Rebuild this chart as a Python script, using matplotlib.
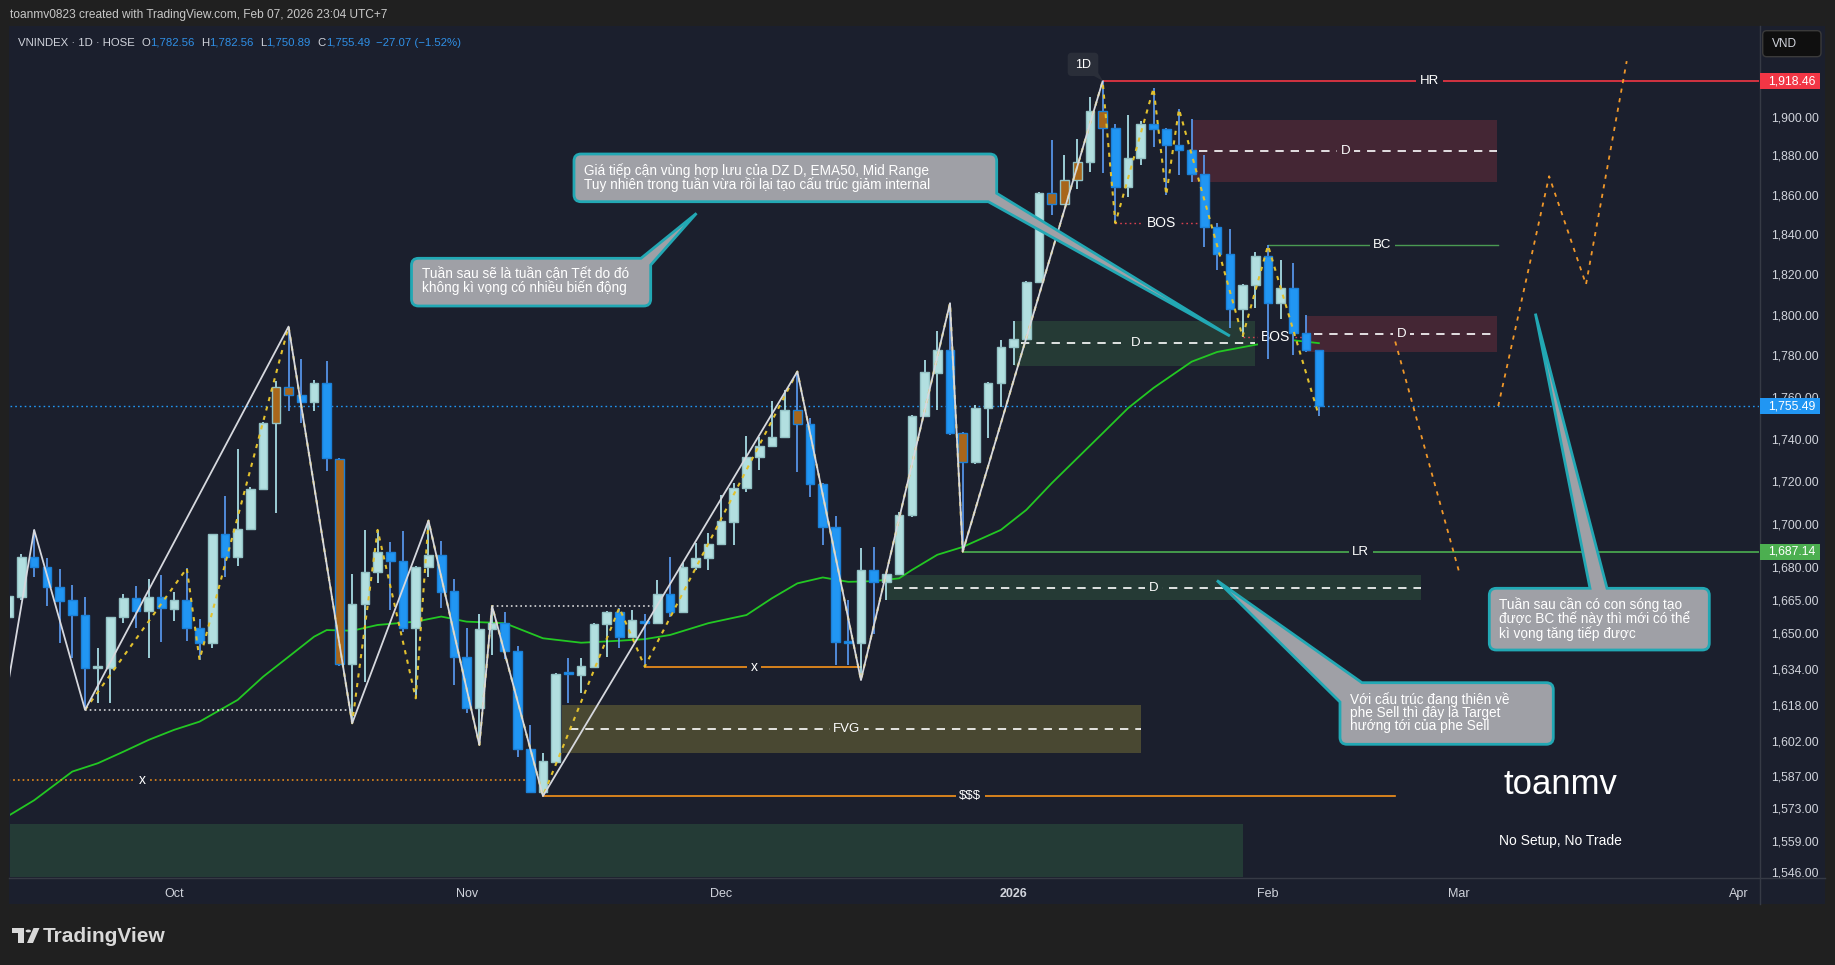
import numpy as np
import matplotlib
matplotlib.use("Agg")
import matplotlib.pyplot as plt
from matplotlib.patches import Rectangle, PathPatch, Circle, Polygon
from matplotlib.path import Path
from matplotlib.ticker import NullLocator, FixedLocator, NullFormatter

plt.rcParams['font.family'] = ['Liberation Sans', 'DejaVu Sans']
plt.rcParams['lines.scale_dashes'] = False

W, H = 1835, 965

# ------------------------------------------------------------------ data
first_bar = -13  # bar index of the first candle (Oct 1 2025 = 0)
opens = [1657.2, 1666.6, 1684.6, 1680.2, 1670.8, 1664.9, 1658.1, 1634.2, 1634.5, 1657.2,
         1665.8, 1660.2, 1666.3, 1661.1, 1664.9, 1652.2, 1645.5, 1695.2, 1684.9, 1697.5,
         1716.2, 1747.4, 1764.6, 1760.8, 1757.4, 1766.6, 1730.6, 1636.0, 1663.1, 1678.0,
         1686.9, 1682.7, 1652.2, 1680.0, 1685.5, 1669.0, 1639.1, 1616.5, 1651.8, 1654.5,
         1642.1, 1598.5, 1580.1, 1593.1, 1632.0, 1631.1, 1635.0, 1654.1, 1659.5, 1648.4,
         1655.7, 1654.5, 1667.7, 1659.7, 1680.0, 1684.0, 1690.6, 1701.0, 1716.6, 1731.3,
         1736.7, 1741.0, 1753.6, 1747.1, 1718.5, 1698.4, 1646.2, 1645.5, 1678.7, 1673.1,
         1676.8, 1703.9, 1750.8, 1771.7, 1782.7, 1742.6, 1729.0, 1754.6, 1766.6, 1784.0,
         1788.0, 1816.0, 1861.0, 1855.2, 1867.5, 1876.7, 1903.0, 1894.0, 1864.0, 1878.5,
         1896.2, 1893.5, 1885.4, 1882.8, 1870.2, 1843.5, 1830.1, 1802.6, 1814.5, 1829.1,
         1805.9, 1813.0, 1790.9, 1782.56]
highs = [1674.9, 1686.0, 1697.2, 1684.1, 1679.0, 1671.9, 1666.3, 1643.2, 1657.5, 1667.8,
         1671.4, 1674.5, 1676.4, 1668.8, 1679.5, 1656.3, 1695.5, 1713.0, 1735.0, 1717.4,
         1748.0, 1767.4, 1794.1, 1778.2, 1768.2, 1777.4, 1731.0, 1676.9, 1697.2, 1697.2,
         1691.5, 1696.7, 1680.5, 1701.5, 1692.1, 1674.5, 1652.2, 1658.5, 1662.3, 1659.5,
         1644.2, 1609.2, 1596.7, 1632.0, 1638.7, 1638.7, 1654.5, 1660.0, 1661.5, 1660.5,
         1658.5, 1674.1, 1684.6, 1681.8, 1691.1, 1695.7, 1713.5, 1719.1, 1741.3, 1740.7,
         1758.0, 1763.3, 1772.2, 1749.8, 1719.0, 1703.7, 1665.2, 1688.7, 1689.5, 1677.0,
         1705.7, 1751.5, 1777.9, 1792.0, 1805.6, 1743.0, 1756.0, 1767.0, 1787.6, 1797.0,
         1816.8, 1861.5, 1887.9, 1880.2, 1888.3, 1910.4, 1918.46, 1896.2, 1900.9, 1897.9,
         1914.8, 1894.0, 1903.9, 1898.7, 1880.2, 1845.5, 1842.5, 1815.0, 1831.2, 1834.3,
         1827.1, 1825.4, 1799.8, 1782.56]
lows = [1653.7, 1665.0, 1675.7, 1662.3, 1645.5, 1638.7, 1615.8, 1618.7, 1619.0, 1654.5,
        1652.2, 1638.7, 1645.8, 1655.7, 1646.6, 1638.0, 1643.2, 1675.4, 1680.7, 1697.0,
        1716.0, 1705.0, 1753.4, 1747.7, 1753.4, 1724.9, 1635.3, 1609.9, 1628.3, 1672.8,
        1660.5, 1650.5, 1620.9, 1675.7, 1661.3, 1626.8, 1614.6, 1600.4, 1640.2, 1638.3,
        1595.3, 1579.8, 1578.2, 1593.0, 1618.7, 1623.1, 1634.5, 1639.1, 1643.2, 1647.7,
        1635.0, 1654.0, 1657.5, 1659.0, 1678.7, 1678.7, 1690.2, 1690.3, 1715.0, 1725.2,
        1736.3, 1740.7, 1724.4, 1712.7, 1690.3, 1635.7, 1635.7, 1629.0, 1649.4, 1665.0,
        1676.5, 1703.0, 1750.5, 1753.7, 1741.8, 1687.14, 1728.0, 1740.2, 1755.3, 1775.5,
        1787.6, 1815.5, 1849.6, 1854.7, 1862.7, 1871.6, 1870.9, 1845.5, 1858.9, 1875.0,
        1884.5, 1859.8, 1870.0, 1866.3, 1833.5, 1821.8, 1793.3, 1789.2, 1803.4, 1778.2,
        1797.7, 1780.3, 1781.5, 1750.89]
closes = [1666.9, 1684.6, 1680.2, 1670.8, 1664.7, 1658.1, 1634.3, 1634.6, 1657.2, 1665.8,
          1660.2, 1666.3, 1661.3, 1664.9, 1652.2, 1645.5, 1695.2, 1684.9, 1697.5, 1716.2,
          1747.4, 1764.6, 1760.8, 1757.4, 1766.6, 1730.8, 1636.0, 1663.1, 1678.0, 1686.9,
          1682.7, 1652.2, 1680.0, 1685.5, 1668.8, 1639.1, 1616.5, 1651.8, 1654.5, 1642.1,
          1598.5, 1580.1, 1593.4, 1631.8, 1631.5, 1635.3, 1654.2, 1659.5, 1648.4, 1656.0,
          1654.5, 1667.7, 1659.7, 1680.0, 1684.1, 1690.6, 1701.2, 1716.6, 1731.3, 1736.7,
          1741.0, 1753.6, 1747.1, 1718.5, 1698.4, 1646.2, 1645.5, 1678.7, 1673.1, 1676.8,
          1704.2, 1750.8, 1772.2, 1782.7, 1742.6, 1729.0, 1754.6, 1766.6, 1784.0, 1788.0,
          1816.0, 1861.0, 1855.2, 1867.5, 1876.7, 1903.0, 1894.0, 1864.0, 1878.5, 1896.2,
          1893.5, 1885.4, 1882.8, 1870.2, 1843.5, 1830.1, 1802.6, 1814.5, 1829.1, 1805.9,
          1813.0, 1790.9, 1782.56, 1755.49]
orange_bars = [8, 9, 13, 49, 62, 69, 70, 71, 73]

month_pos = [0, 23, 43, 66, 86, 101, 123]
month_labels = ['Oct', 'Nov', 'Dec', '2026', 'Feb', 'Mar', 'Apr']
price_ticks = [1900, 1880, 1860, 1840, 1820, 1800, 1780, 1760, 1740, 1720, 1700,
               1680, 1665, 1650, 1634, 1618, 1602, 1587, 1573, 1559, 1546]

ema_bar = [-13, -11, -8, -6, -4, -2, 0, 2, 5, 7, 9, 11, 12, 14, 16, 19, 21, 23, 26, 29,
           32, 35, 37, 39, 42, 45, 47, 49, 51, 53, 55, 57, 58, 60, 62, 65, 67, 69, 73, 75,
           77, 80, 82, 85, 87, 88, 90]
ema_val = [1569.8, 1576.4, 1588.8, 1592.4, 1597.4, 1602.6, 1607.0, 1610.6, 1620.2, 1630.5,
           1639.4, 1648.4, 1651.4, 1651.1, 1653.7, 1655.2, 1657.5, 1655.2, 1654.5, 1647.7,
           1645.7, 1646.6, 1647.3, 1649.2, 1654.5, 1658.2, 1665.8, 1672.6, 1675.3, 1673.3,
           1673.6, 1674.9, 1678.7, 1685.7, 1689.3, 1697.2, 1706.5, 1719.0, 1742.6, 1754.6,
           1764.3, 1777.0, 1781.7, 1785.2, 1787.3, 1787.4, 1786.0]

major_swing_bar = [-14, -11, -7, 9, 14, 20, 24, 25, 29, 49, 54, 61, 62, 73]
major_swing_price = [1596.0, 1697.2, 1615.8, 1794.1, 1609.9, 1701.5, 1600.4, 1662.3,
                     1578.2, 1772.2, 1629.0, 1805.6, 1687.14, 1918.46]
minor_swing_bar = [-7, 1, 2, 9, 14, 16, 19, 20, 24, 25, 29, 35, 37, 49, 54, 61, 62, 73,
                   74, 77, 78, 79, 84, 86, 90]
minor_swing_price = [1615.8, 1679.5, 1638.0, 1794.1, 1609.9, 1697.2, 1620.9, 1701.5,
                     1600.4, 1662.3, 1578.2, 1661.5, 1635.0, 1772.2, 1629.0, 1805.6,
                     1687.14, 1918.46, 1845.5, 1914.8, 1859.8, 1903.9, 1789.2, 1834.3,
                     1750.89]

proj1_bar = [96.0, 101.0]
proj1_price = [1786.8, 1678.3]
proj2_bar = [104.1, 108.1, 111.0, 114.2]
proj2_price = [1755.6, 1869.3, 1814.9, 1929.0]

last_price = 1755.49
hr_price = 1918.46
lr_price = 1687.14
bc_price = 1834.3
sss_price = 1578.2
x_mid_price = 1635.0
x_low_price = 1585.2
wdot1_price = 1615.8
wdot2_price = 1662.3
bos1_price = 1845.5
bos2_price = 1789.2

# zones: (start bar, end bar, top price, bottom price, label, label bar)
green_zones = [(66, 85, 1797.0, 1775.1, 'D', 75.6),
               (56, 98, 1676.4, 1665.0, 'D', 77.0)]
red_zones = [(80, 104, 1898.3, 1866.3, 'D', 92.1),
             (89, 104, 1799.3, 1781.9, 'D', 96.5)]
fvg_zone = (30.5, 76, 1618.0, 1597.0, 'FVG', 52.9)
base_zone = (-14, 84, 1566.2, 1500.0)

# ------------------------------------------------------------------ style
BG = '#1b1f2d'
OUT = '#202020'
TXT = '#d1d4dc'
BULL = '#b2dfe0'
BULL_EDGE = '#93c2c5'
BEAR = '#2196f3'
BEAR_EDGE = '#1b80d8'
ORANGE = '#a8661a'
BULL_WICK = '#b2ebf2'
BEAR_WICK = '#5b9cf5'
GZONE = '#253a35'
RZONE = '#442634'
FZONE = '#494832'
CALL_FILL = '#9fa0a6'
CALL_EDGE = '#22a8b4'

fig = plt.figure(figsize=(W / 100, H / 100), dpi=100)
fig.patch.set_facecolor(OUT)


def fx(px):
    return px / W


def fy(py):
    return 1 - py / H


# panel background
fig.patches.append(Rectangle((fx(9), fy(904)), fx(1825) - fx(9), fy(26) - fy(904),
                             transform=fig.transFigure, fc=BG, ec='none', zorder=-2))

ax = fig.add_axes([fx(10), fy(877), fx(1759) - fx(10), fy(26) - fy(877)])
ax.set_facecolor(BG)
for s in ax.spines.values():
    s.set_visible(False)
ax.set_yscale('log')
XL = (-12.9, 124.6)
YL = (1543.7, 1947.6)


def zone(x0, x1, top, bot, color, z=1):
    ax.add_patch(Rectangle((x0, bot), x1 - x0, top - bot, fc=color, ec='none', zorder=z))


zone(base_zone[0], base_zone[1], base_zone[2], base_zone[3], '#243b36')
all_zones = [(zz, GZONE) for zz in green_zones] + [(zz, RZONE) for zz in red_zones] + [(fvg_zone, FZONE)]
for (x0, x1, t, b, lab, lx), col in all_zones:
    zone(x0, x1, t, b, col)
    mid = np.sqrt(t * b)
    ax.plot([x0 + 0.6, x1], [mid, mid], color='white', lw=1.2, ls=(0, (6, 5)), zorder=2)
    ax.text(lx, mid, lab, color='white', fontsize=9.5, ha='center', va='center', zorder=3,
            bbox=dict(fc=col, ec='none', pad=2.5))

# price line
ax.axhline(last_price, color='#2196f3', lw=1.0, ls=(0, (1.2, 2.2)), zorder=2)

# EMA50
ax.plot(ema_bar, ema_val, color='#23c823', lw=1.3, zorder=3)


def level(x0, x1, p, color, ls='-', lw=1.2, label=None, lx=None, fs=9.5, z=3):
    ax.plot([x0, x1], [p, p], color=color, lw=lw, ls=ls, zorder=z)
    if label:
        ax.text(lx, p, label, color='white', fontsize=fs, ha='center', va='center', zorder=z + 1,
                bbox=dict(fc=BG, ec='none', pad=2.5))


level(73, XL[1], hr_price, '#f23645', label='HR', lx=98.7)
level(62, XL[1], lr_price, '#4caf50', label='LR', lx=93.3)
level(86, 104.1, bc_price, '#4a9a52', lw=1.0, label='BC', lx=95.0)
level(29, 96.0, sss_price, '#f7931a', label='$$$', lx=62.6)
level(37, 54, x_mid_price, '#f7931a', label='x', lx=45.6, fs=10)
level(-14, 28, x_low_price, '#f7931a', ls=(0, (1.2, 2.2)), lw=1.1, label='x', lx=-2.5, fs=10)
level(-7, 14, wdot1_price, '#e8e8e8', ls=(0, (1.2, 2.2)), lw=1.1)
level(25, 38, wdot2_price, '#e8e8e8', ls=(0, (1.2, 2.2)), lw=1.1)
level(74, 80.8, bos1_price, '#d8404f', ls=(0, (1.2, 2.2)), lw=1.0, label='BOS', lx=77.6, fs=10)
level(84, 88.8, bos2_price, '#d8404f', ls=(0, (1.2, 2.2)), lw=1.0, label='BOS', lx=86.6, fs=10)

# candles
o = np.array(opens); h = np.array(highs); l = np.array(lows); c = np.array(closes)
xb = np.arange(first_bar, first_bar + len(o))
up = c >= o
fill, edge, wick = [], [], []
for i, b in enumerate(xb):
    fill.append(ORANGE if b in orange_bars else (BULL if up[i] else BEAR))
    edge.append(BULL_EDGE if up[i] else BEAR_EDGE)
    wick.append(BULL_WICK if up[i] else BEAR_WICK)
ax.vlines(xb, l, h, colors=wick, lw=1.2, zorder=4)
body_lo = np.minimum(o, c)
body_h = np.maximum(np.abs(c - o), 0.9)
ax.bar(xb, body_h, bottom=body_lo, width=0.68, color=fill, edgecolor=edge, linewidth=1.0, zorder=5)

# swings
ax.plot(minor_swing_bar, minor_swing_price, color='#e2c12e', lw=1.5, ls=(0, (3, 4)), zorder=6)
ax.plot(major_swing_bar, major_swing_price, color='#d6d8de', lw=1.3, zorder=6)

# projections
ax.plot(proj1_bar, proj1_price, color='#f0982a', lw=1.3, ls=(0, (3, 4)), zorder=6)
ax.plot(proj2_bar, proj2_price, color='#f0982a', lw=1.3, ls=(0, (3, 4)), zorder=6)

ax.set_xlim(*XL)
ax.set_ylim(*YL)

# axes ticks
ax.yaxis.tick_right()
ax.yaxis.set_major_locator(FixedLocator(price_ticks))
ax.yaxis.set_minor_locator(NullLocator())
ax.yaxis.set_minor_formatter(NullFormatter())
ax.set_yticklabels([f"{t:,.2f}" for t in price_ticks])
ax.tick_params(axis='y', length=0, pad=9, labelsize=8.8, labelcolor=TXT)
ax.set_xticks(month_pos)
ax.set_xticklabels(month_labels)
ax.tick_params(axis='x', length=0, pad=8, labelsize=9, labelcolor=TXT)
ax.get_xticklabels()[3].set_fontweight('bold')

# separator lines
fig.lines.append(plt.Line2D([fx(1759.5), fx(1759.5)], [fy(26), fy(904)], transform=fig.transFigure,
                            color='#363a45', lw=1))
fig.lines.append(plt.Line2D([fx(9), fx(1825)], [fy(877.5), fy(877.5)], transform=fig.transFigure,
                            color='#363a45', lw=1))


def price_to_py(p):
    disp = ax.transData.transform((0, p))
    return H - disp[1]


def bar_to_px(b):
    return ax.transData.transform((b, 1700))[0]


# price label boxes on right axis
for p, col in [(hr_price, '#f23645'), (last_price, '#2196f3'), (lr_price, '#4caf50')]:
    py = price_to_py(p)
    fig.patches.append(Rectangle((fx(1760), fy(py + 8)), fx(1820) - fx(1760), fy(py - 8) - fy(py + 8),
                                 transform=fig.transFigure, fc=col, ec='none', zorder=5))
    fig.text(fx(1768), fy(py), f"{p:,.2f}", color='white', fontsize=8.8, ha='left', va='center', zorder=6)


def rounded_path(pts, flags, r):
    verts, codes = [], []
    n = len(pts)
    for i, (p, f) in enumerate(zip(pts, flags)):
        p = np.array(p, float)
        if not f:
            verts.append(p); codes.append(Path.LINETO)
        else:
            a = np.array(pts[i - 1], float)
            b = np.array(pts[(i + 1) % n], float)
            d1 = (a - p) / np.linalg.norm(a - p)
            d2 = (b - p) / np.linalg.norm(b - p)
            verts += [p + d1 * r, p, p + d2 * r]
            codes += [Path.LINETO, Path.CURVE3, Path.CURVE3]
    codes[0] = Path.MOVETO
    verts.append(verts[0]); codes.append(Path.CLOSEPOLY)
    verts = [(fx(v[0]), fy(v[1])) for v in verts]
    return Path(verts, codes)


def callout(pts, flags, fc, ec, lw=2.0, r=7, z=20):
    fig.patches.append(PathPatch(rounded_path(pts, flags, r), transform=fig.transFigure,
                                 fc=fc, ec=ec, lw=lw, zorder=z))


CFS = 9.8
# callout 1
tip1 = (bar_to_px(83.0), price_to_py(1789.5))
callout([(574, 154), (996.7, 154), (996.7, 193.3), tip1, (988.3, 201.7), (574, 201.7)],
        [True, True, False, False, False, True], CALL_FILL, CALL_EDGE)
fig.text(fx(584), fy(177.5), "Giá tiếp cận vùng hợp lưu của DZ D, EMA50, Mid Range\n"
         "Tuy nhiên trong tuần vừa rồi lại tạo cấu trúc giảm internal",
         color='white', fontsize=CFS, ha='left', va='center', linespacing=0.98, zorder=21)
# callout 2
callout([(411.5, 258.3), (641, 258.3), (696.5, 213.3), (650.7, 265), (650.7, 306), (411.5, 306)],
        [True, False, False, False, True, True], CALL_FILL, CALL_EDGE)
fig.text(fx(422), fy(281), "Tuần sau sẽ là tuần cận Tết do đó\nkhông kì vọng có nhiều biến động",
         color='white', fontsize=CFS, ha='left', va='center', linespacing=0.98, zorder=21)
# callout 3
callout([(1489.3, 588.3), (1590, 588.3), (1535.4, 313.6), (1607, 588.3), (1709.3, 588.3),
         (1709.3, 650), (1489.3, 650)],
        [True, False, False, False, True, True, True], CALL_FILL, CALL_EDGE)
fig.text(fx(1499), fy(619), "Tuần sau cần có con sóng tạo\nđược BC thế này thì mới có thể\nkì vọng tăng tiếp được",
         color='white', fontsize=CFS, ha='left', va='center', linespacing=0.93, zorder=21)
# callout 4
callout([(1340, 744.3), (1340, 702), (1217, 580.5), (1362, 682.7), (1553.3, 682.7), (1553.3, 744.3)],
        [True, False, False, False, True, True], CALL_FILL, CALL_EDGE)
fig.text(fx(1350), fy(712.6), "Với cấu trúc đang thiên về\nphe Sell thì đây là Target\nhướng tới của phe Sell",
         color='white', fontsize=CFS, ha='left', va='center', linespacing=0.93, zorder=21)

# 1D tag
callout([(1067.7, 52.7), (1098.3, 52.7), (1098.3, 73), (1103, 81), (1094, 76), (1067.7, 76)],
        [True, True, False, False, False, True], '#2a2e39', 'none', lw=0, r=4, z=8)
fig.text(fx(1083), fy(64.5), "1D", color='white', fontsize=9, ha='center', va='center', zorder=9)

# big texts
fig.text(fx(1560), fy(784), "toanmv", color='white', fontsize=25, ha='center', va='center', zorder=9)
fig.text(fx(1560), fy(841), "No Setup, No Trade", color='white', fontsize=10, ha='center', va='center', zorder=9)

# header
fig.text(fx(10), fy(15), "toanmv0823 created with TradingView.com, Feb 07, 2026 23:04 UTC+7",
         color='#c8c8c8', fontsize=8.6, ha='left', va='center')
VBLUE = '#2f8fe6'
hdr = [("VNINDEX · 1D · HOSE", TXT, 6), ("O", TXT, 0.5), ("1,782.56", VBLUE, 6),
       ("H", TXT, 0.5), ("1,782.56", VBLUE, 6), ("L", TXT, 0.5), ("1,750.89", VBLUE, 6),
       ("C", TXT, 0.5), ("1,755.49", VBLUE, 6), ("−27.07 (−1.52%)", VBLUE, 0)]
renderer = fig.canvas.get_renderer()
xcur = 18.4
for s, col, gap in hdr:
    t = fig.text(fx(xcur), fy(42.5), s, color=col, fontsize=8.2, ha='left', va='center', zorder=9)
    xcur += t.get_window_extent(renderer).width + gap

# VND button
callout([(1762.7, 30.7), (1821, 30.7), (1821, 56.7), (1762.7, 56.7)], [True] * 4,
        '#0f0f0f', '#3a3a3a', lw=1.0, r=4, z=8)
fig.text(fx(1771.5), fy(44), "VND", color=TXT, fontsize=8.6, ha='left', va='center', zorder=9)

# TradingView logo
logo_c = '#d9d9d9'
fig.patches.append(Rectangle((fx(12), fy(933)), fx(24) - fx(12), fy(928) - fy(933), transform=fig.transFigure,
                             fc=logo_c, ec='none'))
fig.patches.append(Rectangle((fx(18), fy(943)), fx(24) - fx(18), fy(928) - fy(943), transform=fig.transFigure,
                             fc=logo_c, ec='none'))
fig.patches.append(Polygon([(fx(27), fy(943)), (fx(33), fy(943)), (fx(39.5), fy(928)), (fx(33.5), fy(928))],
                           closed=True, transform=fig.transFigure, fc=logo_c, ec='none'))
fig.patches.append(Circle((fx(28.3), fy(931)), 2.7 / W, transform=fig.transFigure, fc=logo_c, ec='none'))
fig.text(fx(43), fy(936), "TradingView", color=logo_c, fontsize=15, fontweight='bold',
         ha='left', va='center')

fig.savefig("out.png", dpi=100, facecolor=fig.get_facecolor())
